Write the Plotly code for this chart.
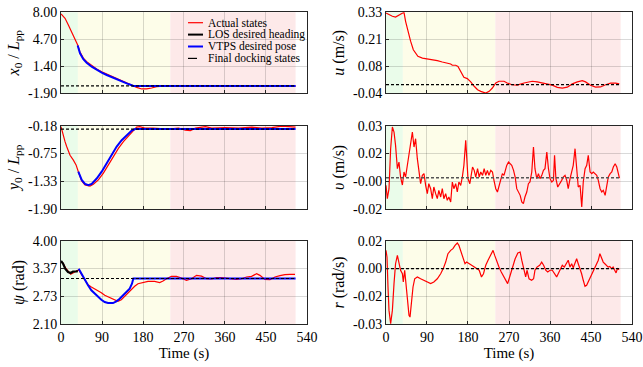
import plotly.graph_objects as go

# ---------------- data ----------------
phase_bounds = [0, 37, 240, 515]          # approach (green), VTPS (yellow), docking (pink)
phase_colors = ["rgb(234,252,234)", "rgb(253,253,233)", "rgb(253,233,233)"]

x_ticks = [0, 90, 180, 270, 360, 450, 540]

# x0 / Lpp
t_x0_act = [0, 4.4, 8.8, 16.1, 23.4, 30.7, 36.6, 41.7, 49, 56.3, 67.3, 78.3, 89.3, 100.3, 111.3,
            122.2, 133.2, 144.2, 155.2, 166, 177, 188, 199, 210, 232, 260, 290, 320, 350, 379,
            410, 452, 480, 515]
x0_act = [7.8, 7.55, 7.27, 6.45, 5.63, 4.82, 4.0, 3.15, 2.4, 1.97, 1.47, 1.06, 0.73, 0.45, 0.17,
          -0.1, -0.35, -0.62, -0.9, -1.17, -1.37, -1.37, -1.25, -1.08, -1.0, -1.0, -1.03, -1.06,
          -1.05, -1.07, -1.06, -1.07, -1.04, -1.03]
t_x0_vtps = [36.6, 41.7, 49, 56.3, 67.3, 78.3, 89.3, 100.3, 111.3, 122.2, 133.2, 144.2, 155.2, 158.8, 515]
x0_vtps = [3.95, 2.99, 2.26, 1.84, 1.35, 0.95, 0.62, 0.34, 0.06, -0.19, -0.43, -0.68, -0.92, -1.0, -1.0]
x0_final = -1.0

# y0 / Lpp
t_y0_act = [0, 4.4, 8.8, 12.4, 19.8, 27.1, 33, 38, 45.4, 52.7, 63.6, 71, 82, 93, 104, 115, 126, 137,
            148, 159, 166, 173, 184, 202, 236, 258, 273, 284, 295, 317, 331, 361, 390, 419, 441,
            463, 485, 500, 515]
y0_act = [-0.2, -0.37, -0.51, -0.61, -0.79, -0.89, -0.99, -1.13, -1.32, -1.405, -1.425, -1.39,
          -1.30, -1.16, -0.99, -0.82, -0.65, -0.51, -0.39, -0.28, -0.21, -0.2, -0.23, -0.23, -0.25,
          -0.23, -0.27, -0.28, -0.23, -0.2, -0.23, -0.22, -0.23, -0.21, -0.23, -0.22, -0.19, -0.2, -0.21]
t_y0_vtps = [38, 45.4, 52.7, 60, 67.3, 78.3, 89.3, 100.3, 111.3, 122.2, 133.2, 144.2, 155.2, 162.5, 515]
y0_vtps = [-1.13, -1.30, -1.38, -1.41, -1.38, -1.27, -1.13, -0.96, -0.79, -0.61, -0.48, -0.37,
           -0.28, -0.25, -0.25]
y0_final = -0.25

# psi
t_psi_act = [0, 4.4, 9.5, 15.4, 21.2, 26.3, 33.7, 38.8, 44.6, 52, 59.3, 66.6, 74, 81.2, 88.5, 95.9,
             103.2, 110.5, 117.8, 125, 132.4, 139.7, 147, 154.4, 161.7, 169, 180, 191, 205.6, 216.6,
             224, 231.5, 242.5, 253.5, 264.5, 275.5, 286.5, 297.5, 308.5, 319.5, 330.5, 341.5, 352.4,
             363.4, 374.4, 385.4, 396.4, 407.4, 418.4, 429.4, 436.7, 447.7, 458.7, 469.7, 480.7,
             491.7, 502.7, 513.7]
psi_act = [3.52, 3.49, 3.39, 3.30, 3.237, 3.266, 3.31, 3.34, 3.237, 3.114, 3.0, 2.948, 2.909, 2.873,
           2.818, 2.759, 2.721, 2.681, 2.646, 2.622, 2.659, 2.737, 2.811, 2.887, 2.964, 3.023, 3.054,
           3.077, 3.077, 3.05, 3.084, 3.136, 3.191, 3.191, 3.15, 3.10, 3.136, 3.213, 3.195, 3.136,
           3.13, 3.16, 3.16, 3.15, 3.136, 3.12, 3.136, 3.175, 3.19, 3.25, 3.213, 3.12, 3.114, 3.175,
           3.205, 3.23, 3.237, 3.237]
t_psi_los = [0, 4.4, 9.5, 15.4, 21.2, 26.3, 33.7, 37]
psi_los = [3.54, 3.48, 3.36, 3.29, 3.266, 3.30, 3.305, 3.31]
t_psi_vtps = [38.8, 44.6, 52, 59.3, 66.6, 74, 81.2, 88.5, 95.9, 103.2, 114.2, 121.5, 128.8, 136,
              143.4, 150.7, 155.8, 158.8, 515]
psi_vtps = [3.364, 3.25, 3.114, 2.986, 2.873, 2.796, 2.721, 2.659, 2.607, 2.584, 2.584, 2.622,
            2.681, 2.759, 2.834, 2.909, 3.023, 3.1416, 3.1416]
psi_final = 3.1416

# u
t_u = [0, 6.6, 14, 21, 28.5, 36, 39.5, 43, 48, 54, 60, 65, 70, 80, 90.7, 101.7, 112.6, 123.6, 134.5,
       142, 145.6, 153, 158, 164, 171, 178.5, 186, 193.6, 201, 208, 219, 226.5, 233.5, 241, 248,
       259, 266, 277, 288, 303, 321, 332, 343, 354, 365, 376, 387, 398, 409, 420, 431, 438, 449,
       460, 471, 482, 493, 504, 512]
u_act = [0.327, 0.319, 0.312, 0.308, 0.316, 0.327, 0.330, 0.289, 0.243, 0.198, 0.159, 0.144, 0.129,
         0.121, 0.118, 0.113, 0.109, 0.103, 0.098, 0.094, 0.088, 0.088, 0.083, 0.061, 0.033, 0.027,
         0.012, -0.008, -0.024, -0.031, -0.039, -0.031, -0.016, 0.007, 0.015, 0.015, 0.007, -0.001,
         -0.003, 0.007, 0.015, 0.012, 0.007, 0.003, -0.003, -0.013, -0.016, -0.012, 0.003, 0.012,
         0.018, 0.012, -0.003, -0.012, -0.011, -0.001, 0.006, 0.006, 0.003]
u_final = 0.0

# v
t_v = [0, 2.9, 6.6, 10.2, 14, 17.6, 21, 25, 28.5, 32, 36, 39.5, 43, 47, 50.5, 54, 57.9, 61.5, 65,
       68.8, 72.5, 76, 79.8, 83.4, 87, 90.7, 94, 98, 101.7, 105, 109, 112.6, 116, 120, 123.6, 127,
       131, 134.5, 138, 142, 145.6, 149, 153, 156.5, 160, 164, 167.6, 171, 175, 177, 180, 184, 190,
       193.6, 197, 201, 204.6, 208, 212, 215.5, 219, 222.6, 226, 230, 233.7, 237, 241, 244.6, 248,
       252, 255.5, 259, 265, 268.9, 272.6, 276, 280, 283.5, 287, 290.9, 294.5, 298, 301.6, 305,
       309, 312.6, 316, 320, 323.7, 327, 331, 334.6, 338, 342, 345.6, 349, 353, 356.6, 360, 364,
       367.6, 370, 373, 377, 382, 385.6, 389, 393, 396.7, 400, 404, 407.7, 411, 415, 418.6, 422,
       426, 429.7, 433, 437, 440.6, 444, 448, 451.6, 455, 459, 462.6, 466, 470, 473.6, 477, 481,
       484.6, 488, 492, 495.6, 499, 503, 506.6, 510, 512.4]
v_act = [-0.0058, -0.0138, -0.0078, 0.0162, 0.0292, 0.0262, 0.0182, 0.0042, 0.0082, -0.0008,
         -0.0056, 0.0022, -0.0008, 0.0064, 0.0132, 0.0182, 0.0262, 0.0172, 0.0222, 0.0102, 0.0032,
         -0.0048, 0.0002, 0.0012, -0.0058, -0.0108, -0.0048, -0.0078, -0.0138, -0.0068, -0.0108,
         -0.0138, -0.0088, -0.0128, -0.0078, -0.0138, -0.0108, -0.0148, -0.0128, -0.0158, -0.0038,
         -0.0078, -0.0048, -0.0098, -0.0038, -0.0058, -0.0008, 0.0062, 0.0212, 0.0082, -0.0018,
         -0.0048, 0.0052, 0.0032, -0.0008, 0.0042, -0.0008, 0.0022, 0.0002, 0.0042, 0.0002, 0.0032,
         0.0002, 0.0032, 0.0022, -0.0028, -0.0078, -0.0098, -0.0068, -0.0018, 0.0012, 0.0002,
         0.0062, 0.0082, 0.0072, 0.0062, 0.0032, -0.0008, -0.0078, -0.0098, -0.0118, -0.0158,
         -0.0168, -0.0128, -0.0098, -0.0048, -0.0038, 0.0022, 0.0172, 0.0042, -0.0018, 0.0012,
         -0.0018, 0.0002, 0.0032, 0.0042, 0.0142, 0.0042, -0.0018, -0.0038, -0.0028, 0.0122,
         -0.0018, -0.0068, -0.0048, -0.0028, -0.0008, 0.0002, -0.0028, -0.0078, -0.0018, 0.0032,
         0.0062, 0.0162, 0.0022, -0.0068, -0.0058, -0.0188, -0.0038, 0.0042, 0.0062, 0.0122, 0.0022,
         0.0012, 0.0022, 0.0012, 0.0002, -0.0028, -0.0078, -0.0098, -0.0088, -0.0118, -0.0048,
         -0.0008, 0.0012, 0.0022, 0.0052, 0.0072, 0.0052, 0.0012, -0.0014]
v_final = -0.0012

# r
t_r = [0, 2.2, 4.4, 6.6, 10.2, 14, 17.6, 21, 25, 28.5, 32, 36, 38, 41, 44, 47, 50.5, 52.7, 55.6,
       59.3, 63, 68.8, 76, 83.4, 90.7, 98, 105, 112.6, 120, 125.7, 131, 136, 142, 147, 151.6, 156.5,
       160, 165, 170, 173.4, 177, 182, 187, 193.6, 199, 204.6, 209.6, 214, 219, 224, 230, 235,
       238.6, 243, 248, 253, 259, 264, 267, 272.6, 277.8, 283.5, 289.4, 294.5, 298, 301.6, 306.6,
       309.5, 314, 319.7, 324, 327, 331.4, 337.3, 341.7, 346, 350.6, 355, 360, 365, 369.5, 374.6,
       378, 382.6, 387, 391.4, 396.5, 400, 403.9, 407.5, 411, 414.8, 418.5, 422, 425.8, 429.4, 433,
       436.8, 440.4, 444, 447.7, 451.3, 455, 458.6, 462, 466, 469.5, 473, 476.8, 480.4, 484, 487.7,
       491.3, 495, 498.5, 502.2, 505, 508, 512]
r_act = [0.0109, 0.0069, -0.0110, -0.0250, -0.0329, -0.0250, -0.0090, 0.0029, 0.0079, 0.0039,
         -0.0010, -0.0031, -0.0080, -0.0010, -0.0090, -0.0170, -0.0279, -0.0290, -0.0210, -0.0110,
         -0.0061, -0.0050, -0.0061, -0.0070, -0.0080, -0.0090, -0.0080, -0.0061, -0.0031, 0.0,
         0.0039, 0.0089, 0.0109, 0.0119, 0.0139, 0.0153, 0.0139, 0.0099, 0.0069, 0.0029, 0.0039,
         0.0029, 0.0020, 0.0009, 0.0, -0.0010, -0.0050, -0.0031, 0.0020, 0.0050, 0.0079, 0.0109,
         0.0079, 0.0039, 0.0009, -0.0020, -0.0050, -0.0075, -0.0090, -0.0040, 0.0009, 0.0059,
         0.0093, 0.0099, 0.0050, 0.0, -0.0050, -0.0010, -0.0061, -0.0070, -0.0061, -0.0010, 0.0009,
         0.0020, 0.0039, 0.0020, -0.0010, -0.0020, -0.0010, -0.0010, -0.0031, -0.0050, -0.0031,
         0.0, 0.0020, 0.0009, 0.0029, 0.0050, 0.0009, 0.0029, 0.0005, 0.0039, 0.0059, 0.0029, 0.0,
         -0.0031, -0.0070, -0.0106, -0.0100, -0.0080, -0.0061, -0.0040, -0.0020, 0.0, 0.0020,
         0.0050, 0.0089, 0.0059, 0.0039, 0.0029, 0.0020, 0.0009, 0.0013, 0.0, 0.0009, -0.0010,
         -0.0026, 0.0, -0.0005]
r_final = 0.0

# y-axis ranges and tick labels (as printed)
x0_range = [-1.90, 8.00];   x0_ticklabels = ["-1.90", "1.40", "4.70", "8.00"]
y0_range = [-1.90, -0.18];  y0_ticklabels = ["-1.90", "-1.33", "-0.75", "-0.18"]
psi_range = [2.10, 4.00];   psi_ticklabels = ["2.10", "2.73", "3.37", "4.00"]
u_range = [-0.04, 0.33];    u_ticklabels = ["-0.04", "0.08", "0.21", "0.33"]
v_range = [-0.02, 0.03];    v_ticklabels = ["-0.02", "-0.00", "0.02", "0.03"]
r_range = [-1 / 30, 1 / 60]; r_ticklabels = ["-0.03", "-0.02", "0.00", "0.02"]

legend_names = ["Actual states", "LOS desired heading", "VTPS desired pose", "Final docking states"]

# ---------------- figure ----------------
FONT = "Times New Roman, Liberation Serif, DejaVu Serif, serif"
RED, BLUE, BLACK = "#ff0000", "#0000ff", "#000000"
W, H = 643, 367

fig = go.Figure()

panels = [
    # (axis suffix, xdomain, ydomain, range, ticklabels, title, bottom)
    ("", [0.0949, 0.4774], [0.7458, 0.9665], x0_range, x0_ticklabels,
     "<i>x</i><sub>0</sub> / <i>L</i><sub>pp</sub>", False),
    ("2", [0.0949, 0.4774], [0.4305, 0.6575], y0_range, y0_ticklabels,
     "<i>y</i><sub>0</sub> / <i>L</i><sub>pp</sub>", False),
    ("3", [0.0949, 0.4774], [0.1163, 0.3441], psi_range, psi_ticklabels,
     "<i>ψ</i> (rad)", True),
    ("4", [0.6003, 0.9829], [0.7458, 0.9665], u_range, u_ticklabels, "<i>u</i> (m/s)", False),
    ("5", [0.6003, 0.9829], [0.4305, 0.6575], v_range, v_ticklabels, "<i>υ</i> (m/s)", False),
    ("6", [0.6003, 0.9829], [0.1163, 0.3441], r_range, r_ticklabels, "<i>r</i> (rad/s)", True),
]

layout_axes = {}
shapes = []
for suf, xd, yd, yr, ytl, ytitle, bottom in panels:
    xa, ya = "x" + suf, "y" + suf
    step = (yr[1] - yr[0]) / 3
    tickvals = [yr[0] + i * step for i in range(4)]
    xdict = dict(
        domain=xd, anchor=ya, range=[0, 540], tickvals=x_ticks, automargin=False,
        showticklabels=bottom, ticks="inside", ticklen=3, tickcolor="#262626",
        showgrid=True, gridcolor="rgba(0,0,0,0.15)", gridwidth=1,
        showline=True, mirror=True, linecolor="#262626", linewidth=1, zeroline=False,
        tickfont=dict(family=FONT, size=14, color="black"),
    )
    if bottom:
        xdict["title"] = dict(text="Time (s)", font=dict(family=FONT, size=15, color="black"),
                              standoff=0)
    layout_axes["xaxis" + suf] = xdict
    layout_axes["yaxis" + suf] = dict(
        domain=yd, anchor=xa, range=yr, tickvals=tickvals, ticktext=ytl, automargin=False,
        ticks="inside", ticklen=3, tickcolor="#262626",
        showgrid=True, gridcolor="rgba(0,0,0,0.15)", gridwidth=1,
        showline=True, mirror=True, linecolor="#262626", linewidth=1, zeroline=False,
        tickfont=dict(family=FONT, size=14, color="black"),
        title=dict(text=ytitle, font=dict(family=FONT, size=16, color="black"), standoff=4),
    )
    for i in range(3):
        shapes.append(dict(type="rect", xref=xa, yref=ya + " domain",
                           x0=phase_bounds[i], x1=phase_bounds[i + 1], y0=0, y1=1,
                           fillcolor=phase_colors[i], line=dict(width=0), layer="below"))


def line(x, y, ax, color, width, dash=None):
    fig.add_trace(go.Scatter(
        x=x, y=y, mode="lines", showlegend=False,
        line=dict(color=color, width=width, dash=dash),
        xaxis="x" + ax, yaxis="y" + ax, hoverinfo="skip"))


DASH = "3px,2px"
# x0
line(t_x0_act, x0_act, "", RED, 1.2)
line(t_x0_vtps, x0_vtps, "", BLUE, 2.0)
line([0, phase_bounds[3]], [x0_final, x0_final], "", BLACK, 1.2, DASH)
# y0
line(t_y0_act, y0_act, "2", RED, 1.2)
line(t_y0_vtps, y0_vtps, "2", BLUE, 2.0)
line([0, phase_bounds[3]], [y0_final, y0_final], "2", BLACK, 1.2, DASH)
# psi
line(t_psi_act, psi_act, "3", RED, 1.2)
line(t_psi_los, psi_los, "3", BLACK, 2.2)
line(t_psi_vtps, psi_vtps, "3", BLUE, 2.0)
line([0, phase_bounds[3]], [psi_final, psi_final], "3", BLACK, 1.2, DASH)
# u, v, r
line(t_u, u_act, "4", RED, 1.2)
line([0, phase_bounds[3]], [u_final, u_final], "4", BLACK, 1.2, DASH)
line(t_v, v_act, "5", RED, 1.2)
line([0, phase_bounds[3]], [v_final, v_final], "5", "#555555", 1.6, DASH)
line(t_r, r_act, "6", RED, 1.2)
line([0, phase_bounds[3]], [r_final, r_final], "6", BLACK, 1.2, DASH)

# compact legend (MATLAB style) inside the first panel
legend_styles = [(RED, 1.2, None), (BLACK, 2.0, None), (BLUE, 2.0, None), (BLACK, 1.2, "dash")]
annotations = []
for i, (name, (c, w, d)) in enumerate(zip(legend_names, legend_styles)):
    ypx = 22.7 + i * 11.9
    yp = 1 - ypx / H
    shapes.append(dict(type="line", xref="paper", yref="paper",
                       x0=188 / W, x1=203 / W, y0=yp, y1=yp,
                       line=dict(color=c, width=w, dash=d)))
    annotations.append(dict(xref="paper", yref="paper", x=206 / W, y=yp, text=name,
                            showarrow=False, xanchor="left", yanchor="middle",
                            font=dict(family=FONT, size=11.5, color="black")))

fig.update_layout(
    width=W, height=H, margin=dict(l=0, r=0, t=0, b=0),
    paper_bgcolor="white", plot_bgcolor="white",
    shapes=shapes, annotations=annotations, showlegend=False,
    font=dict(family=FONT, size=12, color="black"),
    **layout_axes,
)

fig.write_html("out.html", config={"displayModeBar": False},
               post_script="document.body.style.margin='0px';document.body.style.overflow='hidden';")
